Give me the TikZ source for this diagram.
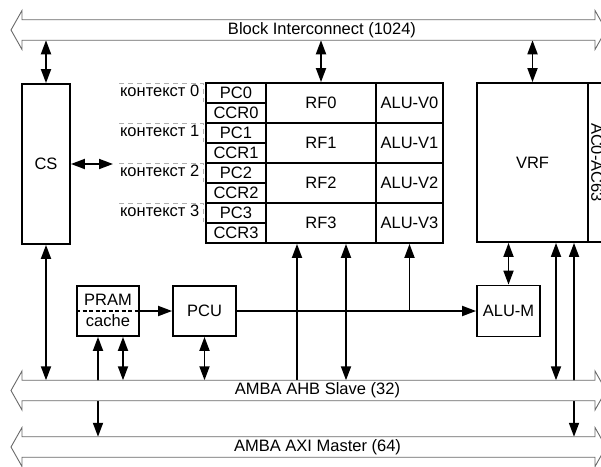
\documentclass[tikz,border=0pt]{standalone}
\usepackage{fontspec}
\setmainfont{Liberation Sans}
\usetikzlibrary{arrows.meta,calc}
\definecolor{busgray}{RGB}{105,105,105}
\definecolor{ctxgray}{RGB}{175,175,175}
\newcommand\busshape[1]{%
  \draw[busgray, line width=0.9pt, fill=white]
    (11,#1) -- (22,#1-19.5) -- (22,#1-10.25) -- (595,#1-10.25) -- (595,#1-19.5)
    -- (606,#1) -- (595,#1+19.5) -- (595,#1+10.25) -- (22,#1+10.25) -- (22,#1+19.5) -- cycle;}
\begin{document}
\begin{tikzpicture}[x=1pt,y=-1pt,
  every node/.style={font=\fontsize{16.5}{19}\selectfont, inner sep=0pt},
  blk/.style={draw, line width=1.8pt, fill=white, rectangle},
  conn/.style={line width=1.8pt, >={Triangle[length=14pt,width=10pt]}},
  ctx/.style={ctxgray, line width=1pt, dash pattern=on 5pt off 4pt}]
\useasboundingbox (0,0) rectangle (601,466);
\clip (0,0) rectangle (601,466);

% bus edge coordinates
\coordinate (topbot) at (0,40.25);
\coordinate (ahbtop) at (0,380.25);
\coordinate (axitop) at (0,436.75);

% boxes
\node[blk, minimum width=48pt, minimum height=160pt] (cs) at (46,164) {CS};
\foreach \i in {0,1,2,3}{
  \draw[ctx] (119,{83+40*\i}) -- (203.5,{83+40*\i}) -- (203.5,{102+40*\i});
  \node[anchor=east] (ctx\i) at (199.5,{91+40*\i}) {контекст \i};
  \node[blk, minimum width=60pt, minimum height=20pt] (pc\i) at (236,{93+40*\i}) {PC\i};
  \node[blk, minimum width=60pt, minimum height=20pt] (ccr\i) at (236,{113+40*\i}) {CCR\i};
  \node[blk, minimum width=110pt, minimum height=40pt] (rf\i) at (321,{103+40*\i}) {RF\i};
  \node[blk, minimum width=67pt, minimum height=40pt] (alu\i) at (409.5,{103+40*\i}) {ALU-V\i};
}
\node[blk, minimum width=111pt, minimum height=159pt] (vrf) at (532.5,162.5) {VRF};
\node[blk, rotate=-90, minimum width=159pt, minimum height=18pt] (acc) at (597,162.5) {AC0-AC63};
\node[blk, minimum width=63pt, minimum height=51pt] (alum) at (508.5,311) {ALU-M};
\node[blk, minimum width=63pt, minimum height=50pt] (pcu) at (204.5,311) {PCU};
\node[blk, minimum width=62pt, minimum height=50pt] (pram) at (108,311) {};
\draw[line width=1.2pt, dash pattern=on 4pt off 2.5pt] (pram.west) -- (pram.east);
\node (pramt) at (108,300.3) {PRAM};
\node (cachet) at (108,320.5) {cache};

% connectors
\coordinate (csr) at (113,164);
\draw[conn,<->] (cs.north) -- (cs.north |- topbot);
\draw[conn,<->] (rf0.north) -- (rf0.north |- topbot);
\draw[conn,<->] (vrf.north) -- (vrf.north |- topbot);
\draw[conn,<->] (cs.east) -- (csr);
\draw[conn,<->] (cs.south) -- (cs.south |- ahbtop);
\draw[conn,<->] ([xshift=-10pt]pram.south) -- ([xshift=-10pt]pram.south |- axitop);
\draw[conn,<->] ([xshift=15pt]pram.south) -- ([xshift=15pt]pram.south |- ahbtop);
\draw[conn,<->] (pcu.south) -- (pcu.south |- ahbtop);
\draw[conn,->] (pram.east) -- (pcu.west);
\draw[conn,->] (pcu.east) -- (alum.west);
\draw[conn,->] (alu3.south |- pcu.east) -- (alu3.south);
\draw[conn,->] ([xshift=-24pt]rf3.south |- ahbtop) -- ([xshift=-24pt]rf3.south);
\draw[conn,<->] ([xshift=25pt]rf3.south) -- ([xshift=25pt]rf3.south |- ahbtop);
\draw[conn,<->] (alum.north |- vrf.south) -- (alum.north);
\draw[conn,<->] ([xshift=23.5pt]vrf.south) -- ([xshift=23.5pt]vrf.south |- ahbtop);
\draw[conn,<->] ([xshift=41.5pt]vrf.south) -- ([xshift=41.5pt]vrf.south |- axitop);

% buses
\busshape{30}
\busshape{390.5}
\busshape{447}
\node (bi) at (322,30) {Block Interconnect (1024)};
\node (ahb) at (317.5,390.5) {AMBA AHB Slave (32)};
\node (axi) at (317.5,447) {AMBA AXI Master (64)};
\end{tikzpicture}
\end{document}
